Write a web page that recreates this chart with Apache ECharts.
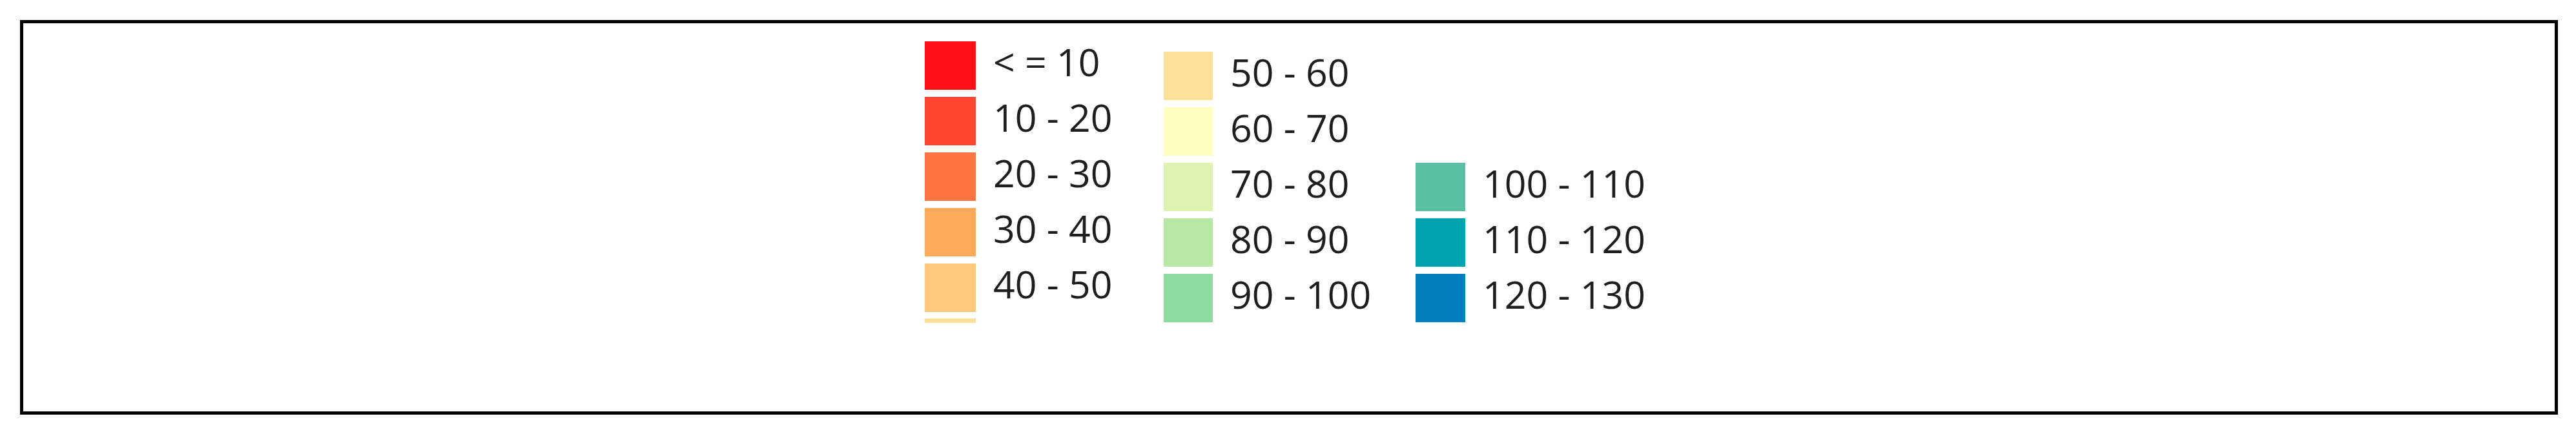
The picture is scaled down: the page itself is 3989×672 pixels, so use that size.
<!DOCTYPE html>
<html>
<head>
<meta charset="utf-8">
<script src="https://cdn.jsdelivr.net/npm/echarts@6/dist/echarts.min.js"></script>
<style>
  html, body { margin: 0; padding: 0; background: #fff; }
  #chart { width: 3989px; height: 672px; }
</style>
</head>
<body>
<div id="chart"></div>
<script>
// legend classes (value ranges) and their fill colours
const classLabels = [
  '< = 10', '10 - 20', '20 - 30', '30 - 40', '40 - 50',
  '50 - 60', '60 - 70', '70 - 80', '80 - 90', '90 - 100',
  '100 - 110', '110 - 120', '120 - 130'
];
const classColors = [
  '#ff1016', '#ff4530', '#ff7443', '#ffa95a', '#ffc87c',
  '#ffe09a', '#ffffc0', '#def3b2', '#b8e8a6', '#8edba0',
  '#5bbfa5', '#00a3b0', '#0081bd'
];

const col1 = classLabels.slice(0, 5);
const col2 = classLabels.slice(5, 10);
const col3 = classLabels.slice(10);

const chart = echarts.init(document.getElementById('chart'), null, { renderer: 'canvas' });

const textStyle = {
  fontFamily: 'Open Sans',
  fontSize: 59,
  color: '#1e1e1e',
  padding: [9, 0, 0, 22]
};

function column(names, left, top, iconW) {
  return {
    orient: 'vertical',
    left: left,
    top: top,
    padding: 0,
    icon: 'rect',
    itemWidth: iconW,
    itemHeight: 75,
    itemGap: 11,
    selectedMode: false,
    textStyle: textStyle,
    data: names
  };
}

const option = {
  animation: false,
  backgroundColor: '#fff',
  color: classColors,
  grid: { show: false },
  xAxis: { type: 'category', show: false, data: [] },
  yAxis: { type: 'value', show: false },
  legend: [
    column(col1, 1432, 64, 79),
    column(col2, 1802, 80, 76),
    column(col3, 2192, 252, 77),
    // top edge of the next class, cut off at the bottom of the first column
    {
      orient: 'vertical', left: 1432, top: 493, padding: 0, icon: 'rect',
      itemWidth: 79, itemHeight: 7, selectedMode: false,
      formatter: () => '', data: [classLabels[5]]
    }
  ],
  series: classLabels.map((name) => ({
    name: name,
    type: 'bar',
    data: []
  })),
  graphic: [{
    type: 'rect',
    shape: { x: 33.5, y: 33.5, width: 3925, height: 606 },
    style: { fill: 'none', stroke: '#000', lineWidth: 5 },
    silent: true
  }]
};

chart.setOption(option);
</script>
</body>
</html>
